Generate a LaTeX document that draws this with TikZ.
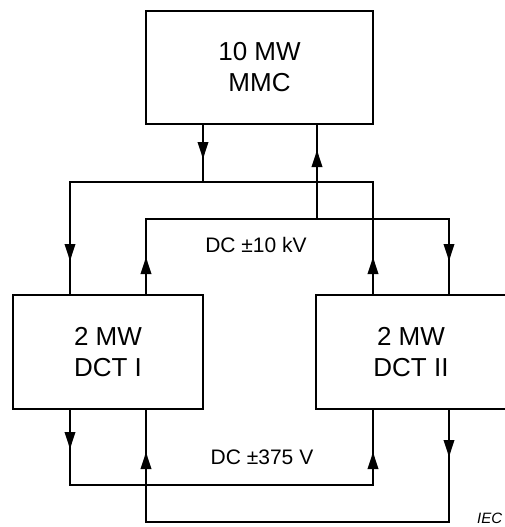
\documentclass[tikz,border=0pt]{standalone}
\usepackage{fontspec}
\setmainfont{Liberation Sans}
\usetikzlibrary{arrows.meta}
\begin{document}
\begin{tikzpicture}[x=1pt,y=-1pt,
  box/.style={draw,line width=1.8pt,align=center,inner sep=0pt,
    font=\fontsize{26}{31}\selectfont},
  wire/.style={line width=1.8pt},
  tipmark/.style={line width=1.8pt,-{Triangle[length=17pt,width=10.5pt]}},
  volt/.style={font=\fontsize{21}{25}\selectfont}]
\useasboundingbox (0,0) rectangle (504,527);
% boxes
\node[box,minimum width=227pt,minimum height=113pt] (mmc) at (259.5,67.5) {10 MW\\MMC};
\node[box,minimum width=190pt,minimum height=114pt] (dct1) at (108,352) {2 MW\\DCT I};
\node[box,minimum width=190pt,minimum height=114pt] (dct2) at (411,352) {2 MW\\DCT II};
% levels
\coordinate (X70) at (70,0);
\coordinate (X146) at (146,0);
\coordinate (X203) at (203,0);
\coordinate (X317) at (317,0);
\coordinate (X373) at (373,0);
\coordinate (X449) at (449,0);
\coordinate (Y182) at (0,182);
\coordinate (Y219) at (0,219);
\coordinate (Y485) at (0,485);
\coordinate (Y522) at (0,522);
% upper bus
\draw[wire] (mmc.south -| X203) -- (Y182 -| X203);
\draw[wire] (dct1.north -| X70) |- (Y182 -| X373) -- (dct2.north -| X373);
\draw[wire] (mmc.south -| X317) -- (Y219 -| X317);
\draw[wire] (dct1.north -| X146) |- (Y219 -| X449) -- (dct2.north -| X449);
% lower bus
\draw[wire] (dct1.south -| X70) |- (Y485 -| X373) -- (dct2.south -| X373);
\draw[wire] (dct1.south -| X146) |- (Y522 -| X449) -- (dct2.south -| X449);
% arrowheads
\draw[tipmark] (203,140) -- (203,159);
\draw[tipmark] (317,170) -- (317,150);
\draw[tipmark] (70,242) -- (70,261);
\draw[tipmark] (146,276) -- (146,257);
\draw[tipmark] (373,276) -- (373,257);
\draw[tipmark] (449,242) -- (449,261);
\draw[tipmark] (70,430) -- (70,449);
\draw[tipmark] (146,471) -- (146,452);
\draw[tipmark] (373,471) -- (373,452);
\draw[tipmark] (449,438) -- (449,457);
% labels
\node[volt] (hv) at (256,245) {DC ±10 kV};
\node[volt] (lv) at (262,457) {DC ±375 V};
\node[anchor=west,inner sep=0pt,font=\fontsize{15}{17}\itshape] (iec) at (477,518) {IEC};
\end{tikzpicture}
\end{document}
